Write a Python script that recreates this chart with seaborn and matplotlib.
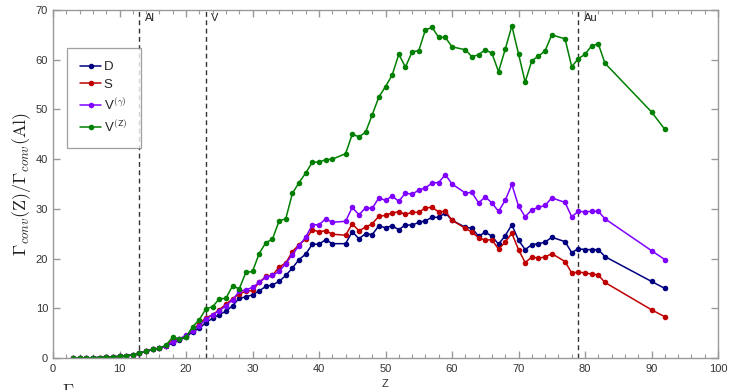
import numpy as np
import pandas as pd
import matplotlib
matplotlib.use("Agg")
import matplotlib.pyplot as plt
import seaborn as sns
from matplotlib.ticker import MultipleLocator

# ---------------- data ----------------
Z = (list(range(3, 43)) + list(range(44, 61)) + list(range(62, 76))
     + list(range(77, 84)) + [90, 92])

low = [0.0, 0.01, 0.03, 0.06, 0.1, 0.15, 0.22, 0.33, 0.48, 0.7, 1.0, 1.35, 1.75, 1.95]  # Z=3..16

D = low + [2.4, 3.0, 3.6, 4.2, 5.3, 6.0, 7.1, 8.0, 8.7, 9.4, 10.5, 12.0, 12.3, 12.7,
           13.5, 14.4, 14.7, 15.4, 16.6, 18.1, 19.8, 20.9, 22.9, 22.9, 23.8, 23.0,
           23.0, 25.4, 24.0, 25.0, 24.8, 26.6, 26.2, 26.6, 25.8, 26.8, 26.7, 27.3,
           27.6, 28.3, 28.3, 29.2, 27.7,
           26.3, 26.1, 24.5, 25.3, 24.5, 22.9, 24.6, 26.8, 23.7, 21.8, 22.8, 23.0,
           23.3, 24.3,
           23.4, 21.2, 22.0, 21.8, 21.8, 21.8, 20.4, 15.4, 14.0]

S = low + [2.5, 3.5, 3.8, 4.4, 5.6, 6.9, 8.1, 8.7, 9.7, 10.8, 11.9, 12.9, 13.4, 13.6,
           15.2, 16.4, 16.6, 18.3, 19.1, 21.4, 22.8, 23.9, 25.8, 25.4, 25.6, 24.9,
           24.7, 27.0, 25.6, 26.3, 27.0, 28.5, 28.7, 29.2, 29.4, 28.9, 29.3, 29.3,
           30.2, 30.3, 29.4, 29.5, 27.7,
           26.1, 25.3, 24.2, 23.7, 23.8, 21.9, 23.3, 25.1, 21.8, 19.2, 20.3, 20.1,
           20.3, 21.0,
           19.4, 17.1, 17.3, 17.1, 16.9, 16.7, 15.2, 9.7, 8.3]

Vg = low + [2.4, 3.2, 3.8, 4.6, 5.5, 6.5, 7.8, 8.7, 9.5, 10.5, 11.7, 13.4, 13.7, 14.2,
            15.2, 16.2, 16.6, 17.4, 19.0, 20.8, 22.6, 24.3, 26.8, 26.8, 28.0, 27.3,
            27.5, 30.3, 28.8, 30.2, 30.1, 32.2, 31.7, 32.6, 31.5, 33.2, 32.9, 33.8,
            34.2, 35.2, 35.3, 36.9, 35.0,
            33.2, 33.3, 31.2, 32.4, 31.2, 29.5, 31.7, 34.9, 30.6, 28.4, 29.8, 30.3,
            30.7, 32.2,
            31.3, 28.4, 29.5, 29.4, 29.5, 29.5, 28.0, 21.6, 19.8]

VZ = low + [2.6, 4.2, 3.8, 4.2, 6.3, 7.7, 9.9, 10.3, 11.9, 12.0, 14.5, 13.9, 17.2, 17.4,
            21.0, 23.2, 23.9, 27.6, 28.0, 33.1, 35.3, 37.2, 39.4, 39.4, 39.9, 40.0,
            41.1, 45.0, 44.5, 45.4, 48.9, 52.5, 54.6, 56.9, 61.1, 58.5, 61.6, 61.8,
            66.0, 66.5, 64.5, 64.5, 62.6,
            62.0, 60.6, 61.0, 62.0, 61.3, 57.6, 62.1, 66.8, 61.2, 55.5, 59.8, 60.7,
            61.8, 65.0,
            64.2, 58.6, 60.2, 61.1, 62.8, 63.2, 59.3, 49.5, 46.0]

series_names = ["D", "S", r"V$^{(\gamma)}$", r"V$^{(\mathsf{Z})}$"]
series_vals = [D, S, Vg, VZ]
colors = ["#00007f", "#bf0000", "#8000ff", "#007f00"]

ref_Z = [13, 23, 79]
ref_labels = ["Al", "V", "Au"]

df = pd.concat([pd.DataFrame({"Z": Z, "val": v, "series": n})
                for n, v in zip(series_names, series_vals)], ignore_index=True)

# ---------------- plot ----------------
sns.set_style("ticks")
plt.rcParams["font.family"] = ["Liberation Sans", "DejaVu Sans"]
plt.rcParams["mathtext.fontset"] = "cm"

fig = plt.figure(figsize=(7.3, 3.9), dpi=100)
ax = fig.add_axes([53/730, 1-358/390, 665/730, 348/390])

sns.lineplot(data=df, x="Z", y="val", hue="series", hue_order=series_names,
             palette=colors, marker="o", markersize=4, markeredgewidth=0,
             linewidth=1.1, errorbar=None, ax=ax, legend=True)

for zr, lab in zip(ref_Z, ref_labels):
    ax.axvline(zr, color="#333333", linestyle=(0, (3.5, 2.5)), linewidth=1.0, zorder=1)
    ax.text(zr + 0.8, 68.3, lab, fontsize=8, color="#222222", va="center", ha="left")

ax.set_xlim(0, 100)
ax.set_ylim(0, 70)
ax.xaxis.set_major_locator(MultipleLocator(10))
ax.xaxis.set_minor_locator(MultipleLocator(2))
ax.yaxis.set_major_locator(MultipleLocator(10))
ax.tick_params(which="both", direction="in", top=True, right=True, bottom=True, left=True,
               colors="#999999", labelcolor="#333333", labelsize=8)
ax.tick_params(which="major", length=5, width=1)
ax.tick_params(which="minor", length=3, width=0.8)
ax.tick_params(axis="x", pad=4)
for sp in ax.spines.values():
    sp.set_visible(True)
    sp.set_color("#999999")
    sp.set_linewidth(1.0)

ax.set_xlabel("Z", fontsize=8, color="#333333", labelpad=4)
ax.set_ylabel(r"$\Gamma_{conv}(\mathrm{Z})/\Gamma_{conv}(\mathrm{Al})$", fontsize=13,
              color="#222222", labelpad=2)

leg = ax.legend(loc="upper left", bbox_to_anchor=(0.021, 0.891), borderaxespad=0,
                fontsize=9.5, frameon=True, fancybox=False, edgecolor="#888888",
                handlelength=1.6, handletextpad=0.2, borderpad=1.0, labelspacing=0.4)
leg.get_frame().set_linewidth(0.9)

fig.text(62/730, 1-383/390, r"$\Gamma$", fontsize=13, color="#333333", va="top", ha="left")

fig.savefig("out.png", dpi=100)
